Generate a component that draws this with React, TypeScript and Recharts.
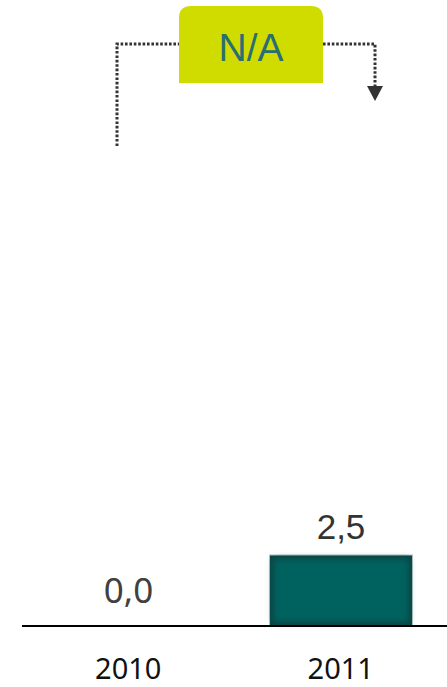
import { BarChart, Bar, XAxis, YAxis, LabelList, Customized } from 'recharts'

const years = ['2010', '2011']
const values = [0.0, 2.5]
const changeLabel = 'N/A'

const data = years.map((year, i) => ({ year, value: values[i] }))

const fmt = (v: number) => v.toFixed(1).replace('.', ',')

function BarShape(props: any) {
  const { x, y, width, height } = props
  if (!height || height <= 0) return null
  return (
    <g>
      <rect x={x} y={y} width={width} height={height} fill="#0b4343" stroke="#b7c2c2" strokeWidth={1} />
      <rect
        x={x + 4}
        y={y + 4}
        width={width - 8}
        height={height - 8}
        fill="#00625f"
        filter="url(#soft)"
      />
    </g>
  )
}

function ValueLabel(props: any) {
  const { x, y, width, value } = props
  const zero = value === 0
  return (
    <text
      x={x + width / 2}
      y={zero ? y - 23 : y - 16}
      textAnchor="middle"
      fill={zero ? '#404040' : '#333333'}
      fontSize={35}
      fontFamily={zero ? '"Noto Sans", sans-serif' : '"Liberation Sans", Arial, sans-serif'}
    >
      {fmt(value)}
    </text>
  )
}

function YearTick(props: any) {
  const { x, y, payload } = props
  return (
    <text
      x={x}
      y={y + 45}
      textAnchor="middle"
      fill="#111111"
      fontSize={29}
      fontFamily='"Noto Sans", sans-serif'
    >
      {payload.value}
    </text>
  )
}

function Annotation() {
  const dot = { stroke: '#333333', strokeWidth: 3, strokeDasharray: '2.6 1.8', fill: 'none' }
  return (
    <g>
      <defs>
        <filter id="soft" x="-10%" y="-20%" width="120%" height="140%">
          <feGaussianBlur stdDeviation="3" />
        </filter>
      </defs>
      <path d="M117,146 L117,44 L179,44" {...dot} />
      <path d="M323,44 L375,44 L375,87" {...dot} />
      <polygon points="367,86 383,86 375,101" fill="#333333" />
      <path d="M179,83 L179,18 Q179,6 191,6 L311,6 Q323,6 323,18 L323,83 Z" fill="#d0dc00" />
      <text
        x={251}
        y={61}
        textAnchor="middle"
        fill="#2b6e70"
        fontSize={39}
        fontFamily='"Liberation Sans", Arial, sans-serif'
      >
        {changeLabel}
      </text>
    </g>
  )
}

export default function App() {
  return (
    <div style={{ position: 'fixed', left: 0, top: 0, background: '#fff' }}>
      <BarChart
        width={447}
        height={687}
        data={data}
        margin={{ top: 58, right: 0, bottom: 0, left: 22 }}
        barSize={143}
      >
        <XAxis
          dataKey="year"
          height={61}
          axisLine={{ stroke: '#000000', strokeWidth: 2 }}
          tickLine={false}
          tick={<YearTick />}
          interval={0}
        />
        <YAxis hide domain={[0, 20]} />
        <Bar dataKey="value" shape={<BarShape />} isAnimationActive={false}>
          <LabelList dataKey="value" content={<ValueLabel />} />
        </Bar>
        <Customized component={<Annotation />} />
      </BarChart>
    </div>
  )
}
